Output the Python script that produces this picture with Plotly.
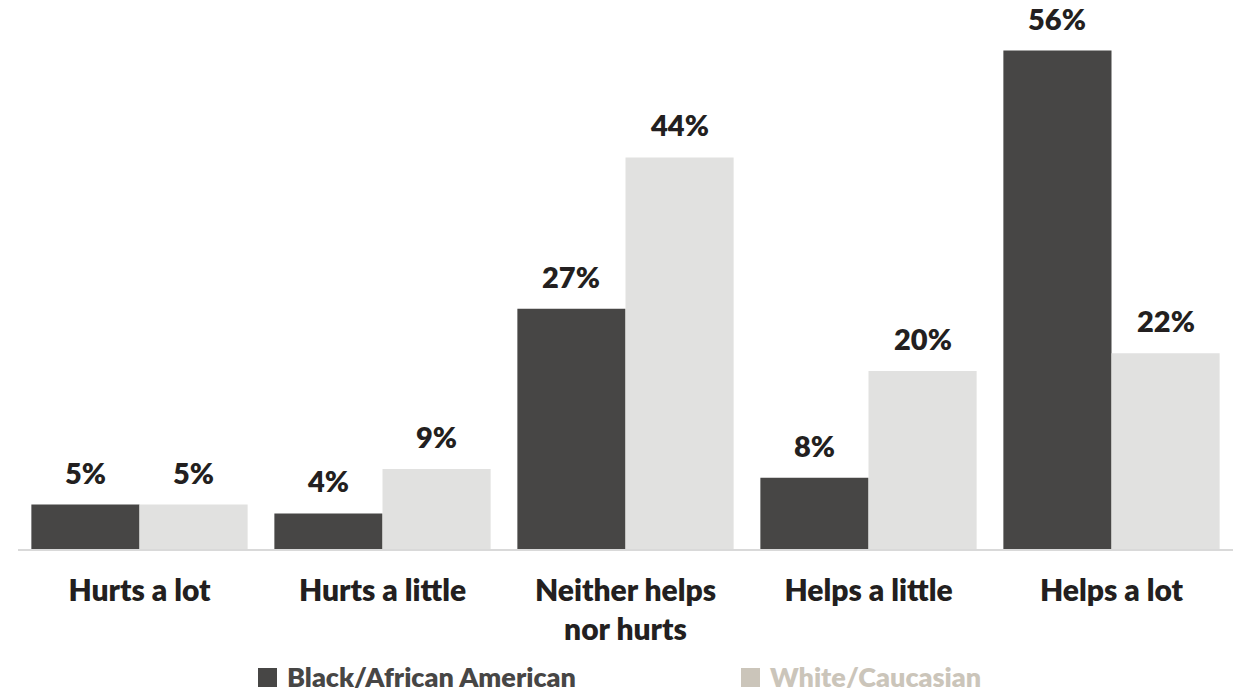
import plotly.graph_objects as go

categories = ["Hurts a lot", "Hurts a little", "Neither helps<br>nor hurts", "Helps a little", "Helps a lot"]
black_vals = [5, 4, 27, 8, 56]
white_vals = [5, 9, 44, 20, 22]
series_names = ["Black/African American", "White/Caucasian"]

DARK = "#474645"
LIGHT = "#e1e1e0"
LEG_LIGHT = "#cbc5ba"
TXT = "#231f20"
FONT = "Lato"

W, H = 1240, 693
ml, mr, mt, mb = 18, 7, 15, 144
pw, ph = W - ml - mr, H - mt - mb
BARGAP = 0.11
bar_px = pw / len(categories) * (1 - BARGAP) / 2

fig = go.Figure()
annotations = []
for i, (name, vals, col) in enumerate([(series_names[0], black_vals, DARK), (series_names[1], white_vals, LIGHT)]):
    fig.add_trace(go.Bar(
        x=categories, y=vals, name=name, marker=dict(color=col, line=dict(width=0)),
        showlegend=False, hoverinfo="x+y",
    ))
    shift = (-1 if i == 0 else 1) * bar_px / 2
    for c, v in zip(categories, vals):
        annotations.append(dict(x=c, y=v, xref="x", yref="y", text=f"{v}%", showarrow=False,
                                xanchor="center", yanchor="bottom", xshift=shift, yshift=13,
                                font=dict(family=FONT, size=29, color=TXT, weight=800)))

def px(x):
    return (x - ml) / pw

def py(y):
    return (H - mb - y) / ph

shapes = []
for sq_x, txt_x, name, sqcol, tcol in [(258, 286, series_names[0], DARK, DARK), (741, 769, series_names[1], LEG_LIGHT, LEG_LIGHT)]:
    shapes.append(dict(type="rect", xref="paper", yref="paper",
                       x0=px(sq_x), x1=px(sq_x + 19), y0=py(687), y1=py(668),
                       fillcolor=sqcol, line=dict(width=0)))
    annotations.append(dict(text=name, xref="paper", yref="paper", x=px(txt_x), y=py(676),
                            xanchor="left", yanchor="middle", showarrow=False, borderpad=0,
                            font=dict(family=FONT, size=27, color=tcol, weight=800)))

fig.update_layout(
    width=W, height=H,
    margin=dict(l=ml, r=mr, t=mt, b=mb),
    barmode="group", bargap=BARGAP, bargroupgap=0,
    plot_bgcolor="white", paper_bgcolor="white",
    shapes=shapes, annotations=annotations,
    xaxis=dict(showline=True, linecolor="#d9d9d9", linewidth=2, ticks="outside", ticklen=14,
               tickcolor="rgba(0,0,0,0)",
               tickfont=dict(family=FONT, size=30, color=TXT, weight=800)),
    yaxis=dict(range=[0, 60], visible=False, showgrid=False),
)

fig.write_html("out.html", config={"displayModeBar": False},
               post_script="document.body.style.margin='0';document.body.style.overflow='hidden';")
